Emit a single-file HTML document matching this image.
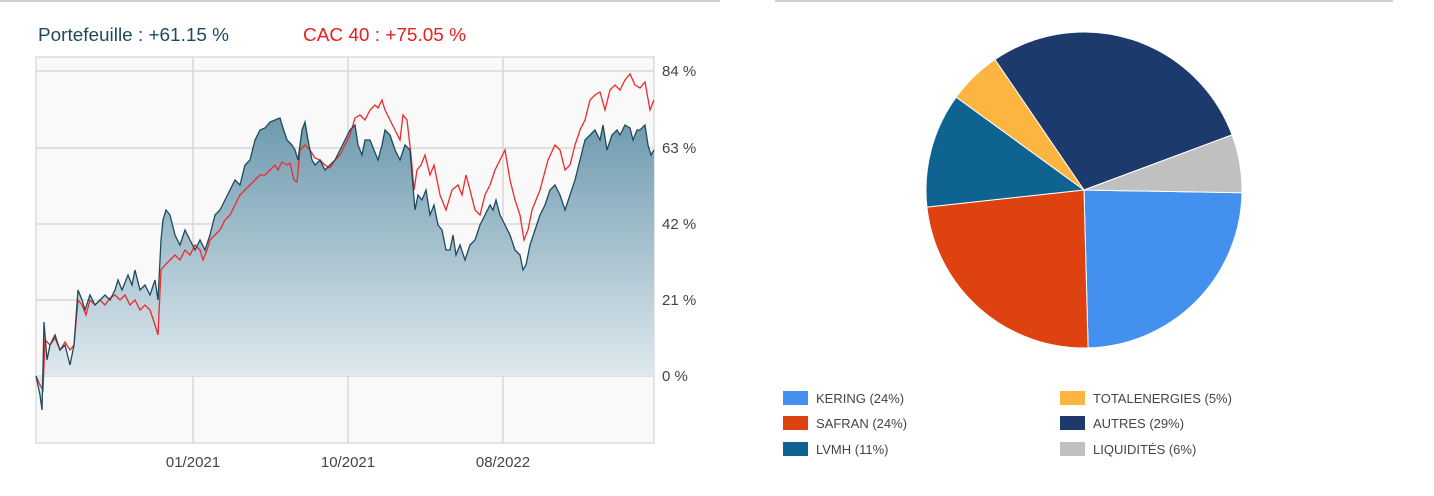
<!DOCTYPE html>
<html><head><meta charset="utf-8"><style>
body{margin:0;width:1434px;height:496px;background:#fff;font-family:"Liberation Sans",sans-serif;overflow:hidden}
svg{position:absolute;left:0;top:0}
</style></head><body>
<svg width="1434" height="496" viewBox="0 0 1434 496" font-family="Liberation Sans, sans-serif">
<defs>
<linearGradient id="f" x1="0" y1="118" x2="0" y2="376" gradientUnits="userSpaceOnUse"><stop offset="0" stop-color="#6d9aaf"/><stop offset="1" stop-color="#dfe9ee"/></linearGradient></defs>
<line x1="0" y1="1" x2="720" y2="1" stroke="#cfcfcf" stroke-width="2"/>
<line x1="775" y1="1" x2="1393" y2="1" stroke="#cfcfcf" stroke-width="2"/>
<text x="38" y="41" font-size="18" fill="#1f4a5e" textLength="191" lengthAdjust="spacingAndGlyphs">Portefeuille : +61.15 %</text>
<text x="303" y="41" font-size="18" fill="#ee1c1c" textLength="163" lengthAdjust="spacingAndGlyphs">CAC 40 : +75.05 %</text>
<rect x="36" y="57" width="618" height="386" fill="#f9f9f9" stroke="#cccccc"/>
<g stroke="#d8d8d8" stroke-width="1.5">
<line x1="36" y1="71" x2="654" y2="71"/><line x1="36" y1="148" x2="654" y2="148"/><line x1="36" y1="224" x2="654" y2="224"/><line x1="36" y1="300" x2="654" y2="300"/><line x1="36" y1="376" x2="654" y2="376"/>
<line x1="193" y1="57" x2="193" y2="443"/><line x1="348" y1="57" x2="348" y2="443"/><line x1="503" y1="57" x2="503" y2="443"/></g>
<polygon fill="url(#f)" points="36,376 40,395 42,410 44,322 47,360 50,345 55,335 60,350 65,345 70,365 74,345 78,290 82,300 85,310 90,295 95,305 100,300 105,295 110,300 115,290 118,280 122,290 128,275 132,285 135,270 140,290 145,285 150,295 155,280 158,300 161,240 163,220 166,210 170,215 175,235 180,245 185,230 190,240 195,250 200,240 205,250 210,235 215,215 220,210 225,200 230,190 235,180 240,185 245,165 250,160 255,140 260,130 265,128 270,122 275,120 280,118 283,128 287,140 292,145 295,150 298,160 302,130 305,122 308,140 312,160 315,165 320,160 325,170 330,165 335,160 340,150 345,140 350,130 355,125 358,145 362,155 365,140 370,140 374,150 378,160 382,145 385,130 390,135 395,150 400,160 405,145 410,150 412,175 415,210 418,195 422,200 426,190 430,215 434,205 438,225 442,230 446,250 450,250 453,235 456,255 460,245 465,260 470,245 475,240 480,225 485,215 490,205 493,210 496,200 500,215 505,225 510,235 515,250 520,255 523,270 526,265 530,245 535,230 540,215 545,205 550,190 555,185 560,195 565,210 570,195 575,180 580,160 585,140 590,135 595,130 600,140 603,125 607,150 612,135 617,130 620,135 625,125 630,128 633,140 637,130 640,130 645,125 648,145 651,155 654,150 654,376"/>
<polyline fill="none" stroke="#ee2a2a" stroke-width="1.3" points="36,376 40,385 43,390 45,340 50,345 55,338 60,350 65,342 70,350 74,345 78,300 82,305 86,315 90,300 95,305 100,300 105,305 110,298 115,295 120,300 125,295 130,305 135,300 140,310 145,305 150,310 155,325 158,335 161,270 165,265 170,260 175,255 180,260 185,250 190,255 195,245 200,250 203,260 207,250 210,240 215,235 220,230 225,220 230,215 235,205 240,195 245,190 250,185 255,180 260,175 265,175 270,170 275,165 278,170 282,162 287,165 290,163 294,180 297,182 300,150 305,145 310,150 315,158 320,160 325,165 330,168 335,160 340,155 345,145 350,135 355,118 360,115 365,120 370,110 375,105 378,108 382,100 385,110 390,120 395,130 400,140 403,115 407,120 411,155 414,190 417,170 421,165 425,155 430,175 434,165 440,195 446,210 452,190 458,185 462,195 466,175 470,190 475,210 480,215 485,195 490,185 495,170 500,160 505,150 510,180 515,200 520,215 524,240 528,230 532,210 540,190 548,160 555,145 560,150 565,170 570,165 575,145 580,130 585,120 590,100 595,95 600,92 605,110 610,90 615,85 620,90 625,80 630,74 635,85 640,88 645,82 650,110 654,100"/>
<polyline fill="none" stroke="#1f4a5e" stroke-width="1.3" points="36,376 40,395 42,410 44,322 47,360 50,345 55,335 60,350 65,345 70,365 74,345 78,290 82,300 85,310 90,295 95,305 100,300 105,295 110,300 115,290 118,280 122,290 128,275 132,285 135,270 140,290 145,285 150,295 155,280 158,300 161,240 163,220 166,210 170,215 175,235 180,245 185,230 190,240 195,250 200,240 205,250 210,235 215,215 220,210 225,200 230,190 235,180 240,185 245,165 250,160 255,140 260,130 265,128 270,122 275,120 280,118 283,128 287,140 292,145 295,150 298,160 302,130 305,122 308,140 312,160 315,165 320,160 325,170 330,165 335,160 340,150 345,140 350,130 355,125 358,145 362,155 365,140 370,140 374,150 378,160 382,145 385,130 390,135 395,150 400,160 405,145 410,150 412,175 415,210 418,195 422,200 426,190 430,215 434,205 438,225 442,230 446,250 450,250 453,235 456,255 460,245 465,260 470,245 475,240 480,225 485,215 490,205 493,210 496,200 500,215 505,225 510,235 515,250 520,255 523,270 526,265 530,245 535,230 540,215 545,205 550,190 555,185 560,195 565,210 570,195 575,180 580,160 585,140 590,135 595,130 600,140 603,125 607,150 612,135 617,130 620,135 625,125 630,128 633,140 637,130 640,130 645,125 648,145 651,155 654,150"/>
<g font-size="15" fill="#444">
<text x="662" y="76">84 %</text><text x="662" y="153">63 %</text><text x="662" y="229">42 %</text><text x="662" y="305">21 %</text><text x="662" y="381">0 %</text>
<text x="193" y="467" text-anchor="middle">01/2021</text><text x="348" y="467" text-anchor="middle">10/2021</text><text x="503" y="467" text-anchor="middle">08/2022</text></g>
<g stroke="#fff" stroke-width="1">
<path d="M1084,190 L1242,192.8 A158,158 0 0,1 1088.1,347.9Z" fill="#4390ee"/>
<path d="M1084,190 L1088.1,347.9 A158,158 0 0,1 926.9,207.1Z" fill="#de4210"/>
<path d="M1084,190 L926.9,207.1 A158,158 0 0,1 956.2,97.1Z" fill="#0e6391"/>
<path d="M1084,190 L956.2,97.1 A158,158 0 0,1 995,59.5Z" fill="#fbb540"/>
<path d="M1084,190 L995,59.5 A158,158 0 0,1 1232.1,134.9Z" fill="#1c3a6b"/>
<path d="M1084,190 L1232.1,134.9 A158,158 0 0,1 1242,192.8Z" fill="#c0c0c0"/></g>
<g font-size="13" fill="#444">
<rect x="783" y="391" width="25" height="14" fill="#4390ee"/><text x="816" y="403">KERING (24%)</text>
<rect x="783" y="416" width="25" height="14" fill="#de4210"/><text x="816" y="428">SAFRAN (24%)</text>
<rect x="783" y="442" width="25" height="14" fill="#0e6391"/><text x="816" y="454">LVMH (11%)</text>
<rect x="1060" y="391" width="25" height="14" fill="#fbb540"/><text x="1093" y="403">TOTALENERGIES (5%)</text>
<rect x="1060" y="416" width="25" height="14" fill="#1c3a6b"/><text x="1093" y="428">AUTRES (29%)</text>
<rect x="1060" y="442" width="25" height="14" fill="#c0c0c0"/><text x="1093" y="454">LIQUIDITÉS (6%)</text></g>
</svg></body></html>
